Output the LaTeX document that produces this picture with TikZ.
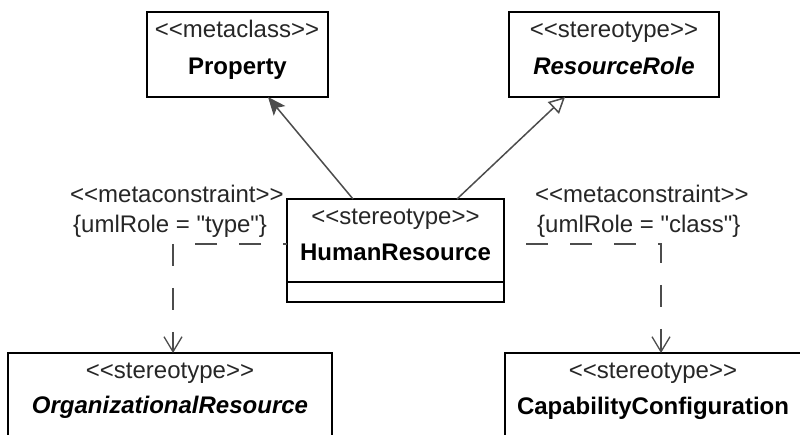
\documentclass[tikz,border=0pt]{standalone}
\usepackage{fontspec}
\newfontfamily\umlfont{Liberation Sans}
\usetikzlibrary{arrows.meta}
\begin{document}
\begin{tikzpicture}[x=1pt,y=-1pt,
  umlbox/.style={draw=black, line width=2pt, inner sep=0pt, outer sep=0pt, rectangle},
  st/.style={font=\umlfont\fontsize{24}{28}\selectfont, text=black!85, anchor=base, inner sep=0pt},
  stl/.style={st, anchor=base west},
  nm/.style={font=\umlfont\fontsize{24}{28}\selectfont\bfseries, text=black, anchor=base, inner sep=0pt},
  nmi/.style={nm, font=\umlfont\fontsize{24}{28}\selectfont\bfseries\itshape},
  assoc/.style={draw=black!70, line width=1.5pt, -{Stealth[length=18pt,width=15pt,inset=4pt]}},
  gen/.style={draw=black!70, line width=1.5pt, -{Triangle[open,length=16pt,width=16pt,fill=white]}},
  dep/.style={draw=black!70, line width=1.3pt, dash pattern=on 22pt off 22pt, -{Straight Barb[length=15pt,width=18pt]}}
]
\useasboundingbox (0,0) rectangle (800,435);
\clip (0,0) rectangle (800,435);

% boxes
\node[umlbox, minimum width=181pt, minimum height=85pt] (prop) at (237.5,54.5) {};
\node[umlbox, minimum width=210pt, minimum height=85pt] (rr) at (614,54.5) {};
\node[umlbox, minimum width=217pt, minimum height=103pt] (hr) at (395.5,250.5) {};
\node[umlbox, minimum width=324pt, minimum height=107pt] (org) at (170,406.5) {};
\node[umlbox, minimum width=296pt, minimum height=107pt] (cap) at (653,406.5) {};
\draw[line width=2pt] ([yshift=20pt]hr.south west) coordinate (hrdl) -- ([yshift=20pt]hr.south east) coordinate (hrdr);

% texts
\node[st] (t1) at (237,38) {<<metaclass>>};
\node[nm] (t2) at (237.5,75) {Property};
\node[st] (t3) at (614,38) {<<stereotype>>};
\node[nmi] (t4) at (614,75) {ResourceRole};
\node[st] (t5) at (395.5,225) {<<stereotype>>};
\node[nm] (t6) at (395.5,261) {HumanResource};
\node[st] (t7) at (170,378) {<<stereotype>>};
\node[nmi] (t8) at (170,413) {OrganizationalResource};
\node[st] (t9) at (653,378) {<<stereotype>>};
\node[nm] (t10) at (653,414) {CapabilityConfiguration};

\node[stl] (c1) at (70,203) {<<metaconstraint>>};
\node[stl] (c2) at (73,233) {\{umlRole = "type"\}};
\node[stl] (c3) at (535,203) {<<metaconstraint>>};
\node[stl] (c4) at (537,233) {\{umlRole = "class"\}};

% connectors
\draw[assoc] ([xshift=-42.5pt]hr.north) -- ([xshift=30.5pt]prop.south);
\draw[gen] ([xshift=61.5pt]hr.north) -- ([xshift=-49pt]rr.south);
\draw[dep, dash phase=18pt] ([yshift=6.5pt]hr.west) -| ([xshift=3pt]org.north);
\draw[dep, dash phase=22pt] ([yshift=6.5pt]hr.east) -| ([xshift=8pt]cap.north);
\end{tikzpicture}
\end{document}
